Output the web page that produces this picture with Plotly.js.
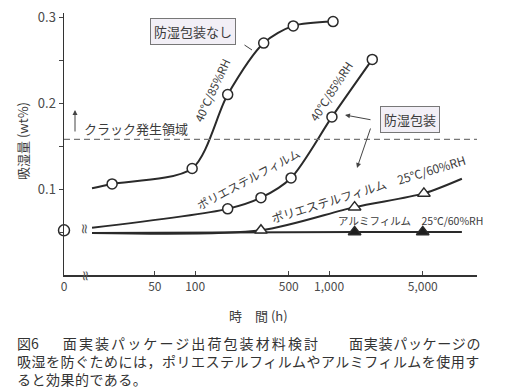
<!DOCTYPE html>
<html>
<head>
<meta charset="utf-8">
<script src="https://cdn.plot.ly/plotly-3.0.1.min.js"></script>
<style>html,body{margin:0;padding:0;background:#fff;}#chart{width:505px;height:392px;}</style>
</head>
<body>
<div id="chart"></div>
<script>
// ---- data ----
const zeroHour = [0];
const zeroValue = [0.052];

const lineStartHour = 17;            // where the drawn curves begin after the axis break
const lineStartValues = [0.101, 0.055, 0.049, 0.049]; // noPack, poly40, poly25, alumi

const hoursNoPack = [24, 95, 175, 325, 540, 1070];
const valuesNoPack = [0.106, 0.124, 0.210, 0.270, 0.290, 0.295];

const hoursPoly40 = [175, 310, 520, 1050, 2100];
const valuesPoly40 = [0.077, 0.090, 0.113, 0.184, 0.251];

const hoursPoly25 = [310, 1550, 5100];
const valuesPoly25 = [0.052, 0.079, 0.095];

const hoursAlumi = [1550, 5000];
const valuesAlumi = [0.050, 0.050];

const lineEndHour = 9800;
const lineEndValues = [0.112, 0.050]; // poly25, alumi

const crackLevel = 0.158;

const xTickHours = [0, 50, 100, 500, 1000, 5000];
const xTickLabels = ['0', '50', '100', '500', '1,000', '5,000'];
const yTickValues = [0.05, 0.1, 0.15, 0.2, 0.25, 0.3];
const yTickLabels = ['', '0.1', '', '0.2', '', '0.3'];

// ---- rendering ----
const ZERO_POS = 10.5; // position used for "0 h" on the broken log axis
const hx = h => (h === 0 ? ZERO_POS : h);

const INK = '#2a2a2a';
const TXT = '#3c3c3c';
const FONT = '"Noto Sans CJK JP", "Noto Sans", sans-serif';

function lineTrace(xs, ys) {
  return {x: xs.map(hx), y: ys, mode: 'lines', type: 'scatter', hoverinfo: 'skip',
    line: {color: INK, width: 2, shape: 'spline', smoothing: 0.8}, showlegend: false, cliponaxis: false};
}
function markerTrace(xs, ys, symbol, fill, size) {
  return {x: xs.map(hx), y: ys, mode: 'markers', type: 'scatter', showlegend: false, cliponaxis: false,
    marker: {symbol: symbol, size: size, color: fill, line: {color: INK, width: 1.5}}};
}

const traces = [
  lineTrace([lineStartHour, ...hoursNoPack], [lineStartValues[0], ...valuesNoPack]),
  lineTrace([lineStartHour, ...hoursPoly40], [lineStartValues[1], ...valuesPoly40]),
  lineTrace([lineStartHour, ...hoursPoly25, lineEndHour], [lineStartValues[2], ...valuesPoly25, lineEndValues[0]]),
  lineTrace([lineStartHour, ...hoursAlumi, lineEndHour], [lineStartValues[3], ...valuesAlumi, lineEndValues[1]]),
  markerTrace(hoursNoPack, valuesNoPack, 'circle', '#fff', 10),
  markerTrace(hoursPoly40, valuesPoly40, 'circle', '#fff', 10),
  markerTrace(hoursPoly25, valuesPoly25, 'triangle-up', '#fff', 11),
  markerTrace(hoursAlumi, valuesAlumi, 'triangle-up', '#1e1e1e', 11),
  markerTrace(zeroHour, zeroValue, 'circle', '#fff', 11)
];

// pixel -> paper helpers for labels (plot area: x 64..477, y 13..275)
const L = 64, R = 28, T = 13, B = 117, W = 505, H = 392;
const PW = W - L - R, PH = H - T - B;
const px = v => (v - L) / PW;
const py = v => (H - B - v) / PH;

function note(text, x, y, opts) {
  return Object.assign({text: text, x: px(x), y: py(y), xref: 'paper', yref: 'paper', showarrow: false,
    xanchor: 'center', yanchor: 'middle', font: {family: FONT, size: 12, color: TXT}}, opts || {});
}
const sp = (t, ls) => '<span style="letter-spacing:' + ls + 'px">' + t + '</span>';

const captionText =
  '図6' + sp('　', 10) + sp('面実装パッケージ出荷包装材料検討', 2.1) + sp('　', 15) + sp('面実装パッケージの', 0.7) + '<br>' +
  sp('吸湿を防ぐためには，ポリエステルフィルムやアルミフィルムを使用す', 0.5) + '<br>' +
  sp('ると効果的である。', 0.5);

const annotations = [
  note('防湿包装なし', 193, 32, {bgcolor: '#f2eff6', bordercolor: '#777', borderwidth: 1, borderpad: 3, font: {family: FONT, size: 13, color: TXT}}),
  note('防湿包装', 410, 119, {bgcolor: '#f2eff6', bordercolor: '#777', borderwidth: 1, borderpad: 3, font: {family: FONT, size: 13, color: TXT}}),
  note('', 252, 50, {showarrow: true, ax: -9, ay: -6, arrowhead: 0, arrowwidth: 1, arrowcolor: '#444'}),
  note('', 345, 115, {showarrow: true, ax: 27, ay: 5, arrowhead: 2, arrowsize: 1, arrowwidth: 1, arrowcolor: '#444'}),
  note('', 357, 168, {showarrow: true, ax: 14, ay: -41, arrowhead: 2, arrowsize: 1, arrowwidth: 1, arrowcolor: '#444'}),
  note('', 75, 110, {showarrow: true, ax: 0, ay: 23, arrowhead: 2, arrowsize: 1, arrowwidth: 1, arrowcolor: '#444'}),
  note('クラック発生領域', 82, 128, {xanchor: 'left', font: {family: FONT, size: 13, color: TXT}}),
  note('40℃/85%RH', 212, 90, {textangle: -65, font: {family: FONT, size: 11.5, color: TXT}}),
  note('40℃/85%RH', 331, 91, {textangle: -57, font: {family: FONT, size: 11.5, color: TXT}}),
  note('ポリエステルフィルム', 248, 179, {textangle: -28, font: {family: FONT, size: 11.5, color: TXT}}),
  note('ポリエステルフィルム　25℃/60%RH', 368, 188, {textangle: -17, font: {family: FONT, size: 12, color: TXT}}),
  note('アルミフィルム　25℃/60%RH', 410, 220, {font: {family: FONT, size: 10.5, color: TXT}}),
  note('≈', 85, 229, {textangle: 90, font: {family: 'DejaVu Sans', size: 14, color: '#555'}}),
  note('≈', 86, 276, {textangle: 90, font: {family: 'DejaVu Sans', size: 14, color: '#555'}}),
  note('吸湿量 (wt%)', 22, 141, {textangle: -90, font: {family: FONT, size: 13, color: TXT}}),
  note('時　間 (h)', 227, 315, {xanchor: 'left', font: {family: FONT, size: 13, color: TXT}}),
  note(captionText, 15, 361, {xanchor: 'left', align: 'left', font: {family: FONT, size: 14, color: '#333'}})
];

const layout = {
  width: W, height: H,
  margin: {l: L, r: R, t: T, b: B, pad: 0},
  paper_bgcolor: '#fff', plot_bgcolor: '#fff',
  font: {family: FONT, color: TXT},
  showlegend: false,
  xaxis: {
    type: 'log', range: [Math.log10(ZERO_POS), 4.104],
    tickvals: xTickHours.map(hx), ticktext: xTickLabels,
    ticks: 'inside', ticklen: 4, tickcolor: '#444', tickwidth: 1,
    showline: true, linecolor: '#333', linewidth: 1.5,
    showgrid: false, zeroline: false,
    tickfont: {family: FONT, size: 12, color: '#4a4a4a'}
  },
  yaxis: {
    range: [0, 0.305],
    tickvals: yTickValues, ticktext: yTickLabels,
    ticks: 'outside', ticklen: 4, tickcolor: '#444', tickwidth: 1,
    showline: true, linecolor: '#333', linewidth: 1.5,
    showgrid: false, zeroline: false,
    tickfont: {family: FONT, size: 13, color: '#4a4a4a'}
  },
  shapes: [{type: 'line', xref: 'paper', x0: 0, x1: 1, yref: 'y', y0: crackLevel, y1: crackLevel,
    line: {color: '#777', width: 1.2, dash: '6px,4px'}}],
  annotations: annotations
};

Plotly.newPlot('chart', traces, layout, {staticPlot: true, displayModeBar: false});
</script>
</body>
</html>
